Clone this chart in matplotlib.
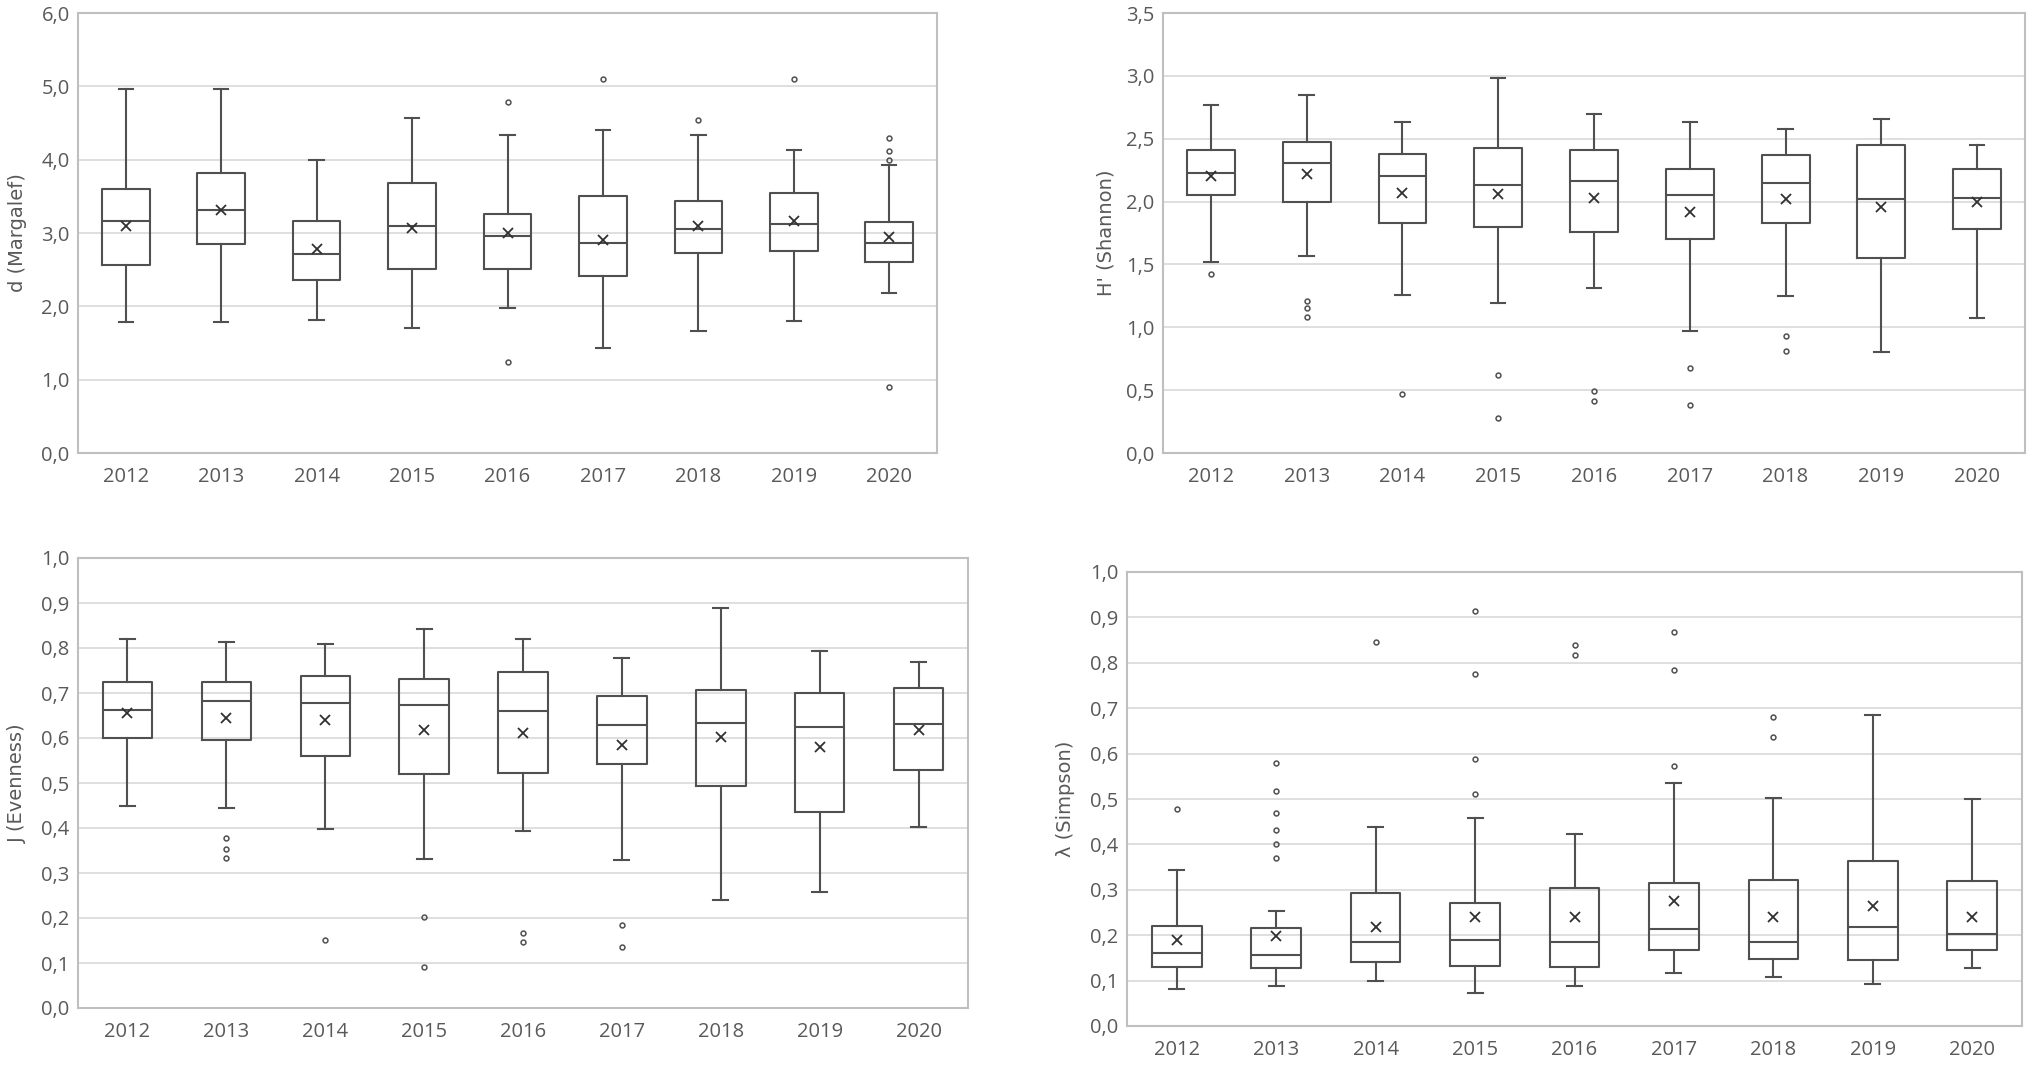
import matplotlib
matplotlib.use('Agg')
import matplotlib.pyplot as plt
from matplotlib.ticker import FuncFormatter, MultipleLocator

plt.rcParams['font.family'] = ['Open Sans', 'DejaVu Sans']

years = ['2012', '2013', '2014', '2015', '2016', '2017', '2018', '2019', '2020']

# d (Margalef)
marg_lo = [1.78, 1.78, 1.82, 1.71, 1.98, 1.43, 1.67, 1.80, 2.18]
marg_q1 = [2.56, 2.85, 2.36, 2.51, 2.51, 2.41, 2.73, 2.75, 2.60]
marg_med = [3.17, 3.32, 2.71, 3.09, 2.96, 2.87, 3.06, 3.12, 2.87]
marg_q3 = [3.60, 3.82, 3.17, 3.68, 3.26, 3.50, 3.44, 3.55, 3.15]
marg_hi = [4.96, 4.96, 4.00, 4.57, 4.33, 4.40, 4.33, 4.13, 3.93]
marg_mean = [3.10, 3.32, 2.78, 3.07, 3.00, 2.91, 3.10, 3.17, 2.94]
marg_out = [[], [], [], [], [4.78, 1.24], [5.10], [4.54], [5.10],
            [4.29, 4.12, 3.99, 0.90]]

# H' (Shannon)
shan_lo = [1.52, 1.57, 1.26, 1.19, 1.31, 0.97, 1.25, 0.80, 1.07]
shan_q1 = [2.05, 2.00, 1.83, 1.80, 1.76, 1.70, 1.83, 1.55, 1.78]
shan_med = [2.23, 2.31, 2.20, 2.13, 2.16, 2.05, 2.15, 2.02, 2.03]
shan_q3 = [2.41, 2.47, 2.38, 2.43, 2.41, 2.26, 2.37, 2.45, 2.26]
shan_hi = [2.77, 2.85, 2.63, 2.98, 2.70, 2.63, 2.58, 2.66, 2.45]
shan_mean = [2.20, 2.22, 2.07, 2.06, 2.03, 1.92, 2.02, 1.96, 2.00]
shan_out = [[1.42], [1.21, 1.15, 1.08], [0.47], [0.62, 0.28], [0.49, 0.41],
            [0.68, 0.38], [0.93, 0.81], [], []]

# J (Evenness)
even_lo = [0.450, 0.445, 0.397, 0.332, 0.394, 0.330, 0.239, 0.257, 0.402]
even_q1 = [0.600, 0.596, 0.560, 0.521, 0.523, 0.542, 0.493, 0.436, 0.530]
even_med = [0.663, 0.682, 0.678, 0.673, 0.660, 0.628, 0.633, 0.624, 0.631]
even_q3 = [0.724, 0.724, 0.737, 0.731, 0.746, 0.694, 0.706, 0.700, 0.712]
even_hi = [0.821, 0.813, 0.809, 0.842, 0.821, 0.777, 0.888, 0.794, 0.769]
even_mean = [0.656, 0.644, 0.639, 0.618, 0.612, 0.584, 0.602, 0.581, 0.618]
even_out = [[], [0.378, 0.353, 0.334], [0.152], [0.203, 0.092], [0.167, 0.146],
            [0.185, 0.135], [], [], []]

# lambda (Simpson)
simp_lo = [0.082, 0.088, 0.099, 0.072, 0.088, 0.117, 0.108, 0.092, 0.127]
simp_q1 = [0.131, 0.128, 0.142, 0.132, 0.131, 0.167, 0.147, 0.146, 0.167]
simp_med = [0.160, 0.157, 0.184, 0.190, 0.184, 0.214, 0.184, 0.217, 0.202]
simp_q3 = [0.220, 0.215, 0.293, 0.271, 0.303, 0.314, 0.322, 0.363, 0.320]
simp_hi = [0.344, 0.254, 0.439, 0.459, 0.423, 0.536, 0.502, 0.686, 0.499]
simp_mean = [0.190, 0.198, 0.219, 0.240, 0.240, 0.275, 0.240, 0.265, 0.240]
simp_out = [[0.479], [0.579, 0.518, 0.470, 0.431, 0.401, 0.369], [0.846],
            [0.915, 0.776, 0.588, 0.512], [0.839, 0.818], [0.867, 0.785, 0.573],
            [0.681, 0.636], [], []]

W, H = 2032, 1066
fig = plt.figure(figsize=(W / 100, H / 100), dpi=100)

edge = '#505050'
txt = '#595959'


def make_stats(lo, q1, med, q3, hi, mean, out):
    st = []
    for i in range(len(years)):
        st.append(dict(whislo=lo[i], q1=q1[i], med=med[i], q3=q3[i],
                       whishi=hi[i], mean=mean[i], fliers=out[i], label=years[i]))
    return st


def painel(box_px, stats, ymax, step, label, label_x):
    l, r, t, b = box_px
    ax = fig.add_axes([l / W, 1 - b / H, (r - l) / W, (b - t) / H])
    ax.bxp(stats, widths=0.5, showmeans=True, patch_artist=False,
           boxprops=dict(color=edge, linewidth=1.5),
           medianprops=dict(color=edge, linewidth=1.5),
           whiskerprops=dict(color=edge, linewidth=1.5),
           capprops=dict(color=edge, linewidth=1.5),
           capwidths=0.15,
           meanprops=dict(marker='x', markeredgecolor='#303030', markersize=7,
                          markeredgewidth=1.3),
           flierprops=dict(marker='o', markerfacecolor='none',
                           markeredgecolor=edge, markersize=3.5,
                           markeredgewidth=1.1))
    ax.set_xlim(0.5, len(years) + 0.5)
    ax.set_ylim(0, ymax)
    ax.yaxis.set_major_locator(MultipleLocator(step))
    ax.yaxis.set_major_formatter(FuncFormatter(lambda v, p: ('%.1f' % v).replace('.', ',')))
    ax.grid(axis='y', color='#d9d9d9', linewidth=1.2)
    ax.set_axisbelow(True)
    for s in ax.spines.values():
        s.set_color('#bfbfbf')
        s.set_linewidth(1.5)
    ax.tick_params(axis='both', length=0, labelsize=14.5, labelcolor=txt)
    ax.tick_params(axis='x', pad=10)
    ax.tick_params(axis='y', pad=6)
    # label_x = borda direita do texto do rotulo, em pixels
    ax.set_ylabel(label, fontsize=14, color=txt, family=['DejaVu Sans'])
    ax.yaxis.set_label_coords((label_x - l) / (r - l), 0.5)
    return ax


painel((78, 937, 13, 453),
       make_stats(marg_lo, marg_q1, marg_med, marg_q3, marg_hi, marg_mean, marg_out),
       6.0, 1.0, 'd (Margalef)', 27)
painel((1163, 2025, 13, 453),
       make_stats(shan_lo, shan_q1, shan_med, shan_q3, shan_hi, shan_mean, shan_out),
       3.5, 0.5, "H' (Shannon)", 1115)
painel((78, 968, 558, 1008),
       make_stats(even_lo, even_q1, even_med, even_q3, even_hi, even_mean, even_out),
       1.0, 0.1, 'J (Evenness)', 27)
painel((1127, 2022, 572, 1026),
       make_stats(simp_lo, simp_q1, simp_med, simp_q3, simp_hi, simp_mean, simp_out),
       1.0, 0.1, 'λ (Simpson)', 1075)

fig.savefig('out.png', dpi=100, facecolor='white')
